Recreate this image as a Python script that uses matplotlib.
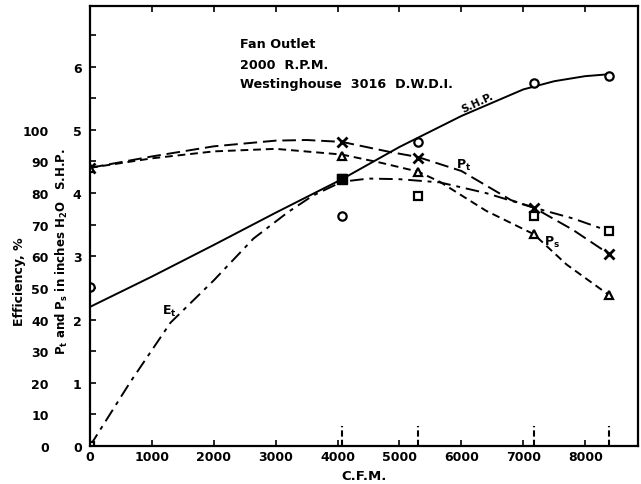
import matplotlib.pyplot as plt

# measured points (C.F.M. of each run)
cfm = [0, 4070, 5300, 7170, 8380]
shp_pts = [2.52, 3.64, 4.81, 5.74, 5.85]
pt_pts = [4.40, 4.81, 4.56, 3.77, 3.04]
ps_pts = [4.40, 4.59, 4.34, 3.35, 2.39]
et_pts = [0.0, 4.22, 3.96, 3.64, 3.40]

# faired curves
shp_x = [0, 1000, 2000, 3000, 4070, 5000, 6000, 7000, 7500, 8000, 8380]
shp_y = [2.2, 2.68, 3.18, 3.69, 4.22, 4.73, 5.22, 5.64, 5.77, 5.85, 5.88]
pt_x = [0, 1000, 2000, 3000, 3500, 4070, 4850, 5300, 5650, 6000, 6400, 6800, 7170, 7800, 8380]
pt_y = [4.40, 4.58, 4.74, 4.83, 4.84, 4.81, 4.65, 4.57, 4.46, 4.35, 4.12, 3.89, 3.77, 3.42, 3.04]
ps_x = [0, 1000, 2000, 3000, 4070, 4700, 5300, 5650, 6400, 7170, 7700, 8380]
ps_y = [4.40, 4.55, 4.66, 4.70, 4.61, 4.48, 4.34, 4.18, 3.72, 3.35, 2.87, 2.39]
et_x = [0, 650, 1300, 2000, 2640, 3200, 3600, 4070, 4500, 5000, 5650, 6400, 7170, 7800, 8380]
et_y = [0, 1.01, 1.95, 2.62, 3.28, 3.70, 3.96, 4.18, 4.23, 4.22, 4.17, 4.0, 3.77, 3.6, 3.40]

xticks = [0, 1000, 2000, 3000, 4000, 5000, 6000, 7000, 8000]
shp_ticks = [0, 1, 2, 3, 4, 5, 6]
eff_ticks = [0, 10, 20, 30, 40, 50, 60, 70, 80, 90, 100]

plt.rcParams['font.family'] = 'DejaVu Sans'
plt.rcParams['font.weight'] = 'bold'

fig = plt.figure(figsize=(6.41, 4.85), dpi=100)
ax = fig.add_axes([0.1404, 0.0784, 0.8549, 0.9072])
lw = 1.4
k = 'black'

ax.plot(shp_x, shp_y, color=k, lw=lw, solid_capstyle='round')
ax.plot(pt_x, pt_y, color=k, lw=lw, linestyle=(0, (7, 3)))
ax.plot(ps_x, ps_y, color=k, lw=lw, linestyle=(0, (4, 2.5)))
ax.plot(et_x, et_y, color=k, lw=lw, linestyle=(0, (7, 3, 2, 3)))

ax.plot(cfm, shp_pts, 'o', ms=6, mfc='white', mec=k, mew=1.6, ls='none')
ax.plot(cfm, pt_pts, 'x', ms=7, mec=k, mew=2, ls='none')
ax.plot(cfm, ps_pts, '^', ms=6, mfc='white', mec=k, mew=1.6, ls='none')
ax.plot(cfm, et_pts, 's', ms=6, mfc='white', mec=k, mew=1.6, ls='none')
ax.plot(cfm[1], et_pts[1], 's', ms=7, color=k)

# run markers above the axis
ax.vlines(cfm[1:], 0, 0.32, color=k, lw=1.5, linestyle=(0, (3, 1.5)))

ax.set_xlim(0, 8853)
ax.set_ylim(0, 6.96)
ax.set_xticks(xticks)
ax.set_xticklabels([str(v) for v in xticks], fontsize=9, fontweight='bold')
ax.set_yticks(shp_ticks)
ax.set_yticklabels([str(v) for v in shp_ticks], fontsize=9, fontweight='bold')
ax.set_yticks([0.5 + i for i in range(7)], minor=True)
ax.tick_params(axis='both', which='both', direction='in', length=4, width=1.2)
ax.tick_params(axis='x', top=True, pad=3)
ax.tick_params(axis='y', pad=6)
for s in ax.spines.values():
    s.set_linewidth(1.6)

eff = ax.secondary_yaxis(-0.0675, functions=(lambda y: y * 20, lambda e: e / 20))
eff.set_yticks(eff_ticks)
eff.set_yticklabels([str(v) for v in eff_ticks], fontsize=9, fontweight='bold')
eff.tick_params(length=0, pad=3)
eff.spines['left'].set_visible(False)

fig.text(20 / 641, 1 - 282 / 485, 'Efficiency, %', rotation=90, ha='center', va='center',
         fontsize=9, fontweight='bold')
fig.text(62 / 641, 1 - 252 / 485, 'P$_\\mathbf{t}$ and P$_\\mathbf{s}$ in inches H$_\\mathbf{2}$O   S.H.P.',
         rotation=90, ha='center', va='center', fontsize=8.5, fontweight='bold')
ax.set_xlabel('C.F.M.', fontsize=9.5, fontweight='bold', labelpad=4)

ax.text(2420, 6.36, 'Fan Outlet', fontsize=9.2, va='center', ha='left', fontweight='bold')
ax.text(2420, 6.03, '2000  R.P.M.', fontsize=9.2, va='center', ha='left', fontweight='bold')
ax.text(2420, 5.74, 'Westinghouse  3016  D.W.D.I.', fontsize=9.2, va='center', ha='left', fontweight='bold')

ax.text(6265, 5.44, 'S.H.P.', fontsize=7.5, rotation=25, ha='center', va='center', fontweight='bold')
ax.text(6030, 4.46, 'P$_\\mathbf{t}$', fontsize=9, ha='center', va='center')
ax.text(7460, 3.24, 'P$_\\mathbf{s}$', fontsize=9, ha='center', va='center')
ax.text(1280, 2.14, 'E$_\\mathbf{t}$', fontsize=9, ha='center', va='center')

fig.savefig('out.png', dpi=100)
